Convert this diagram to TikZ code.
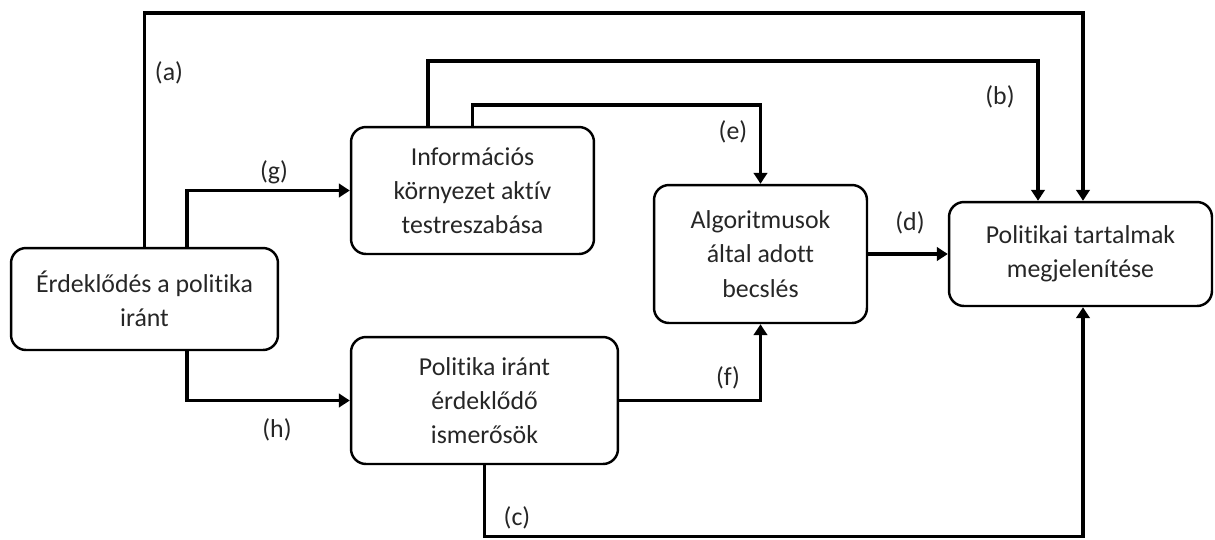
\documentclass[tikz,border=0pt]{standalone}
\usepackage{fontspec}
\setmainfont{Carlito}[Ligatures=NoCommon]
\usetikzlibrary{arrows.meta, positioning, calc}

\begin{document}
\begin{tikzpicture}[x=0.02cm, y=-0.02cm, >={Triangle[length=0.22cm, width=0.27cm]},
  box/.style={draw, line width=1.4pt, rounded corners=0.3cm, align=center, text=black!85, font=\fontsize{14.7}{19.5}\selectfont, inner sep=0pt},
  arr/.style={->, line width=1.9pt},
  lab/.style={text=black!85, font=\fontsize{14.7}{19.5}\selectfont}]
\useasboundingbox (0,0) rectangle (1215,539);
% boxes
\node[box, minimum width=5.34cm, minimum height=2.04cm] (erdek) at (144.5,299) {Érdeklődés a politika\\iránt};
\node[box, minimum width=4.86cm, minimum height=2.54cm] (infokorny) at (472.5,190.5) {Információs\\környezet aktív\\testreszabása};
\node[box, minimum width=5.34cm, minimum height=2.54cm] (ismerosok) at (484.5,400.5) {Politika iránt\\érdeklődő\\ismerősök};
\node[box, minimum width=4.26cm, minimum height=2.76cm] (algbecsles) at (760.5,254) {Algoritmusok\\által adott\\becslés};
\node[box, minimum width=5.26cm, minimum height=2.08cm] (megjelenites) at (1080.5,254) {Politikai tartalmak\\megjelenítése};
% levels of the long connectors
\coordinate (ya) at (0,13);
\coordinate (yb) at (0,61);
\coordinate (ye) at (0,105);
\coordinate (yc) at (0,536.5);
\coordinate (bstart) at ([xshift=-0.89cm]infokorny.north);
% connectors
\draw[arr] (erdek.north) -- (erdek.north |- ya) -| ([xshift=0.05cm]megjelenites.north);
\draw[arr] (bstart) -- (bstart |- yb) -| ([xshift=-0.85cm]megjelenites.north);
\draw[arr] (infokorny.north) -- (infokorny.north |- ye) -| (algbecsles.north);
\draw[arr] ([xshift=0.85cm]erdek.north) |- (infokorny.west);
\draw[arr] ([xshift=0.85cm]erdek.south) |- (ismerosok.west);
\draw[arr] (ismerosok.east) -| (algbecsles.south);
\draw[arr] (algbecsles.east) -- (megjelenites.west);
\draw[arr] (ismerosok.south) -- (ismerosok.south |- yc) -| ([xshift=0.05cm]megjelenites.south);
% labels
\node[lab] (la) at (169,73) {(a)};
\node[lab] (lb) at (1000,97) {(b)};
\node[lab] (lc) at (517,518) {(c)};
\node[lab] (ld) at (910,223) {(d)};
\node[lab] (le) at (733,132) {(e)};
\node[lab] (lf) at (728,378) {(f)};
\node[lab] (lg) at (274,172) {(g)};
\node[lab] (lh) at (277,430) {(h)};
\end{tikzpicture}
\end{document}
